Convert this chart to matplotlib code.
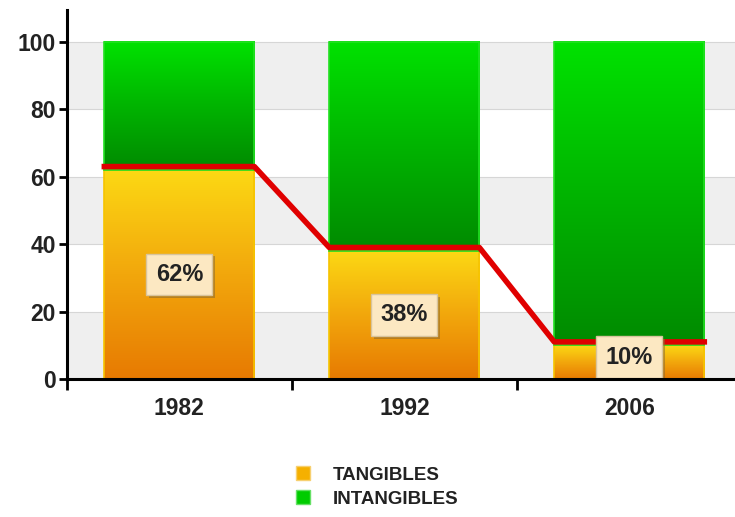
import numpy as np
import matplotlib
matplotlib.use("Agg")
from matplotlib import pyplot as plt
from matplotlib.colors import LinearSegmentedColormap
from matplotlib.patches import Patch
from matplotlib import patheffects as pe

years = ["1982", "1992", "2006"]
tangibles = [62, 38, 10]
intangibles = [38, 62, 90]
labels = ["62%", "38%", "10%"]
yticks = [0, 20, 40, 60, 80, 100]

plt.rcParams["font.family"] = ["Liberation Sans", "DejaVu Sans"]
plt.rcParams["font.weight"] = "bold"

fig = plt.figure(figsize=(7.35, 5.17), dpi=100)
ax = fig.add_axes([0.091, 0.267, 0.909, 0.714])

x = np.arange(len(years))
w = 0.667

yellow = LinearSegmentedColormap.from_list("y", ["#e77a02", "#f2a70c", "#fcd914"])
green = LinearSegmentedColormap.from_list("g", ["#008a00", "#00b400", "#00e200"])
grad = np.linspace(0, 1, 256).reshape(-1, 1)

# alternating background bands
for lo in [0, 40, 80]:
    ax.axhspan(lo, lo + 20, color="#efefef", zorder=0, lw=0)
for yv in yticks[1:]:
    ax.axhline(yv, color="#d6d6d6", lw=0.8, zorder=0.5)

for i in range(len(years)):
    x0, x1 = x[i] - w / 2, x[i] + w / 2
    t = tangibles[i]
    ax.imshow(grad, cmap=yellow, origin="lower", aspect="auto",
              extent=(x0, x1, 0, t), zorder=2, interpolation="bilinear")
    ax.imshow(grad, cmap=green, origin="lower", aspect="auto",
              extent=(x0, x1, t, t + intangibles[i]), zorder=2, interpolation="bilinear")
    ax.bar(x[i], t, w, fill=False, edgecolor="#f6c400", lw=1.2, zorder=3)
    ax.bar(x[i], intangibles[i], w, bottom=t, fill=False, edgecolor="#22e022", lw=1.2, zorder=3)
    ly = max(t / 2, 6.5)
    txt = ax.text(x[i], ly, labels[i], ha="center", va="center", fontsize=17,
                  fontweight="bold", color="#222222", zorder=5,
                  bbox=dict(boxstyle="square,pad=0.4", fc="#fce8c2", ec="#d8c49c", lw=1))
    txt.get_bbox_patch().set_path_effects([
        pe.SimplePatchShadow(offset=(2, -2), shadow_rgbFace="#8a6a30", alpha=0.55),
        pe.Normal()])

# red line across bar tops
lx, lyv = [], []
for i in range(len(years)):
    lx += [x[i] - w / 2, x[i] + w / 2]
    lyv += [tangibles[i] + 1, tangibles[i] + 1]
ax.plot(lx, lyv, color="#e00000", lw=4, zorder=4, solid_joinstyle="round")

ax.set_xlim(-0.5, 2.47)
ax.set_ylim(0, 109.5)
ax.set_yticks(yticks)
ax.set_xticks(x)
ax.set_xticklabels(years)
ax.set_xticks([-0.5, 0.5, 1.5], minor=True)
ax.tick_params(axis="x", which="major", length=0, pad=13, labelsize=16.5, labelcolor="#222222")
ax.tick_params(axis="x", which="minor", length=8, width=2, direction="out")
ax.tick_params(axis="y", length=6, width=2, labelsize=16.5, pad=2, labelcolor="#222222")
for s in ["top", "right"]:
    ax.spines[s].set_visible(False)
ax.spines["left"].set_linewidth(2.2)
ax.spines["bottom"].set_linewidth(2.2)
ax.spines["left"].set_zorder(6)
ax.spines["bottom"].set_zorder(6)

handles = [Patch(fc="#f5b000", ec="#f7d070", label="TANGIBLES"),
           Patch(fc="#00cc00", ec="#66e066", label="INTANGIBLES")]
leg = fig.legend(handles=handles, loc="center left", bbox_to_anchor=(0.39, 0.058),
                 frameon=False, handlelength=0.75, handleheight=0.75,
                 prop={"weight": "bold", "size": 13.5}, labelspacing=0.35,
                 handletextpad=1.2, borderpad=0)
for t in leg.get_texts():
    t.set_color("#222222")

fig.savefig("out.png", dpi=100)
